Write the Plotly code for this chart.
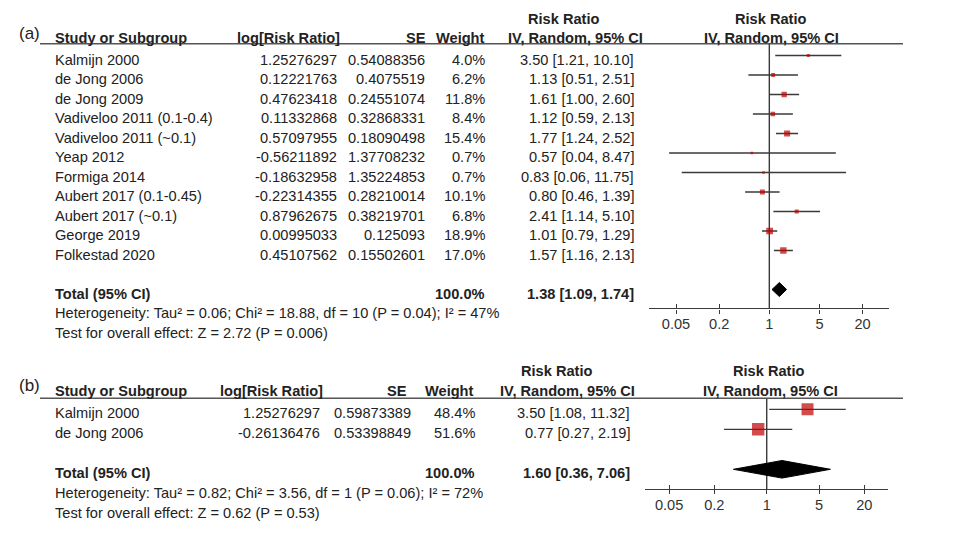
import plotly.graph_objects as go

# ---------------- data: panel (a) ----------------
studies_a = ["Kalmijn 2000", "de Jong 2006", "de Jong 2009", "Vadiveloo 2011 (0.1-0.4)",
             "Vadiveloo 2011 (~0.1)", "Yeap 2012", "Formiga 2014", "Aubert 2017 (0.1-0.45)",
             "Aubert 2017 (~0.1)", "George 2019", "Folkestad 2020"]
log_rr_a = [1.25276297, 0.12221763, 0.47623418, 0.11332868, 0.57097955, -0.56211892,
            -0.18632958, -0.22314355, 0.87962675, 0.00995033, 0.45107562]
se_a = [0.54088356, 0.4075519, 0.24551074, 0.32868331, 0.18090498, 1.37708232,
        1.35224853, 0.28210014, 0.38219701, 0.125093, 0.15502601]
weight_a = [4.0, 6.2, 11.8, 8.4, 15.4, 0.7, 0.7, 10.1, 6.8, 18.9, 17.0]
rr_a = [3.50, 1.13, 1.61, 1.12, 1.77, 0.57, 0.83, 0.80, 2.41, 1.01, 1.57]
lo_a = [1.21, 0.51, 1.00, 0.59, 1.24, 0.04, 0.06, 0.46, 1.14, 0.79, 1.16]
hi_a = [10.10, 2.51, 2.60, 2.13, 2.52, 8.47, 11.75, 1.39, 5.10, 1.29, 2.13]
total_a = (1.38, 1.09, 1.74)
het_a = "Heterogeneity: Tau² = 0.06; Chi² = 18.88, df = 10 (P = 0.04); I² = 47%"
test_a = "Test for overall effect: Z = 2.72 (P = 0.006)"

# ---------------- data: panel (b) ----------------
studies_b = ["Kalmijn 2000", "de Jong 2006"]
log_rr_b = [1.25276297, -0.26136476]
se_b = [0.59873389, 0.53398849]
weight_b = [48.4, 51.6]
rr_b = [3.50, 0.77]
lo_b = [1.08, 0.27]
hi_b = [11.32, 2.19]
total_b = (1.60, 0.36, 7.06)
het_b = "Heterogeneity: Tau² = 0.82; Chi² = 3.56, df = 1 (P = 0.06); I² = 72%"
test_b = "Test for overall effect: Z = 0.62 (P = 0.53)"

tick_vals = [0.05, 0.2, 1, 5, 20]
tick_text = ["0.05", "0.2", "1", "5", "20"]

# ---------------- styling ----------------
W, H = 960, 533
OFF = 8  # page body margin: figure is drawn 8px right/down in the window
FONT = "Liberation Sans, Arial, sans-serif"
FS = 14.6
TXT = "#222222"
LINE = "#3a3a3a"
RED = "#c00000"


def PX(x):
    return (x - OFF) / W


def PY(y):
    return 1 - (y - OFF) / H


fig = go.Figure()
ann = []
shapes = []


def txt(px, y, s, yref, anchor="left", bold=False, size=FS, yshift=-4):
    ann.append(dict(x=PX(px), y=y, xref="paper", yref=yref,
                    text=f"<b>{s}</b>" if bold else s,
                    xanchor=anchor, yanchor="middle", showarrow=False,
                    yshift=yshift,
                    font=dict(family=FONT, size=size, color=TXT)))


def panel(studies, log_rr, se, weight, rr, lo, hi, total, het, test,
          xa, ya, yref, cols, scale, diamond_h, hdr_rows, underline_row, axis_row, label):
    n = len(studies)
    xs, ys = [], []
    for i in range(n):
        xs += [lo[i], hi[i], None]
        ys += [i, i, None]
    fig.add_trace(go.Scatter(x=xs, y=ys, mode="lines", xaxis=xa, yaxis=ya,
                             line=dict(color=LINE, width=1.3), hoverinfo="skip",
                             showlegend=False))
    fig.add_trace(go.Scatter(x=[1, 1], y=[underline_row, axis_row], mode="lines",
                             xaxis=xa, yaxis=ya, line=dict(color=LINE, width=1.4),
                             hoverinfo="skip", showlegend=False))
    sizes = [max(2.6, scale * w ** 0.5) for w in weight]
    fig.add_trace(go.Scatter(x=rr, y=list(range(n)), mode="markers", xaxis=xa, yaxis=ya,
                             marker=dict(symbol="square", size=sizes, color=RED,
                                         line=dict(width=0)),
                             hoverinfo="skip", showlegend=False))
    t_rr, t_lo, t_hi = total
    tr = n + 1
    fig.add_trace(go.Scatter(x=[t_lo, t_rr, t_hi, t_rr, t_lo],
                             y=[tr, tr - diamond_h, tr, tr + diamond_h, tr],
                             mode="lines", fill="toself", fillcolor="black",
                             line=dict(color="black", width=1), xaxis=xa, yaxis=ya,
                             hoverinfo="skip", showlegend=False))
    h1, h2 = hdr_rows
    txt(cols["label_x"], cols["label_y"], label, yref, size=17)
    txt(cols["name"], h2, "Study or Subgroup", yref, bold=True)
    txt(cols["lrr_h"], h2, "log[Risk Ratio]", yref, anchor="right", bold=True)
    txt(cols["se_h"], h2, "SE", yref, anchor="right", bold=True)
    txt(cols["w_h"], h2, "Weight", yref, anchor="right", bold=True)
    txt(cols["rr1"], h1, "Risk Ratio", yref, anchor="center", bold=True)
    txt(cols["rr2"], h2, "IV, Random, 95% CI", yref, anchor="center", bold=True)
    txt(cols["f1"], h1, "Risk Ratio", yref, anchor="center", bold=True)
    txt(cols["f2"], h2, "IV, Random, 95% CI", yref, anchor="center", bold=True)
    for i in range(n):
        txt(cols["name"], i, studies[i], yref)
        txt(cols["lrr"], i, str(log_rr[i]), yref, anchor="right")
        txt(cols["se"], i, str(se[i]), yref, anchor="right")
        txt(cols["w"], i, f"{weight[i]:.1f}%", yref, anchor="right")
        txt(cols["rr"], i, f"{rr[i]:.2f} [{lo[i]:.2f}, {hi[i]:.2f}]", yref, anchor="right")
    txt(cols["name"], tr, "Total (95% CI)", yref, bold=True)
    txt(cols["w"], tr, f"{sum(weight):.1f}%", yref, anchor="right", bold=True)
    txt(cols["rr"], tr, f"{t_rr:.2f} [{t_lo:.2f}, {t_hi:.2f}]", yref, anchor="right", bold=True)
    txt(cols["name"], tr + 1, het, yref)
    txt(cols["name"], tr + 2, test, yref)
    shapes.append(dict(type="line", xref="paper", yref=yref, x0=PX(40), x1=PX(903),
                       y0=underline_row, y1=underline_row,
                       line=dict(color="#555555", width=1.6)))


cols_a = dict(label_x=17, label_y=-1.35, name=52.5, lrr_h=342, lrr=338.5, se_h=428.3, se=427,
              w_h=487, w=487, rr1=563.7, rr2=575.8, rr=636, f1=770, f2=771.7)
cols_b = dict(label_x=17, label_y=-1.4, name=53.3, lrr_h=325, lrr=321.7, se_h=409.3, se=413.3,
              w_h=476, w=477, rr1=556.3, rr2=567.5, rr=631.7, f1=768.3, f2=770)

panel(studies_a, log_rr_a, se_a, weight_a, rr_a, lo_a, hi_a, total_a, het_a, test_a,
      "x", "y", "y", cols_a, 1.55, 0.36, (-2.06, -1.087), -0.6, 12.96, "(a)")
panel(studies_b, log_rr_b, se_b, weight_b, rr_b, lo_b, hi_b, total_b, het_b, test_b,
      "x3", "y2", "y2", cols_b, 1.72, 0.44, (-2.1, -1.1), -0.55, 3.985, "(b)")

fig.add_trace(go.Scatter(x=[1], y=[0], xaxis="x2", yaxis="y", mode="markers",
                         marker=dict(opacity=0), hoverinfo="skip", showlegend=False))
fig.add_trace(go.Scatter(x=[1], y=[0], xaxis="x4", yaxis="y2", mode="markers",
                         marker=dict(opacity=0), hoverinfo="skip", showlegend=False))

tickfont = dict(family=FONT, size=FS, color="#333333")


def xaxis_main(domain, rng, pos):
    return dict(type="log", domain=domain, range=rng, anchor="free", position=pos,
                showline=True, linecolor=LINE, linewidth=1.4, showgrid=False, zeroline=False,
                ticks="outside", ticklen=4, tickwidth=1.4, tickcolor=LINE,
                tickvals=tick_vals, ticktext=tick_text, tickfont=tickfont,
                ticklabelstandoff=-2, fixedrange=True)


def xaxis_over(domain, rng, pos, over):
    return dict(type="log", domain=domain, range=rng, anchor="free", position=pos,
                overlaying=over, showline=False, showgrid=False, zeroline=False,
                ticks="inside", ticklen=4, tickwidth=1.4, tickcolor=LINE,
                tickvals=tick_vals, showticklabels=False, fixedrange=True)


# panel (a): screenshot pixels, row r at y = 55.5 + 19.5 r ; panel (b): y = 409.3 + 20 r
dom_a = [PX(649.3), PX(888.7)]
rng_a = [-1.674, 1.665]
pos_a = PY(308.3)
dom_b = [PX(645), PX(888.3)]
rng_b = [-1.623, 1.621]
pos_b = PY(489)

ya_top, ya_bot = 8, 345
yb_top, yb_bot = 350, 533

fig.update_layout(
    width=W, height=H, margin=dict(l=0, r=0, t=0, b=0),
    paper_bgcolor="white", plot_bgcolor="rgba(0,0,0,0)",
    showlegend=False,
    xaxis=xaxis_main(dom_a, rng_a, pos_a),
    xaxis2=xaxis_over(dom_a, rng_a, pos_a, "x"),
    xaxis3=xaxis_main(dom_b, rng_b, pos_b),
    xaxis4=xaxis_over(dom_b, rng_b, pos_b, "x3"),
    yaxis=dict(domain=[PY(ya_bot), PY(ya_top)],
               range=[(ya_bot - 55.5) / 19.5, (ya_top - 55.5) / 19.5],
               visible=False, anchor="x", fixedrange=True),
    yaxis2=dict(domain=[PY(yb_bot), PY(yb_top)],
                range=[(yb_bot - 409.3) / 20, (yb_top - 409.3) / 20],
                visible=False, anchor="x3", fixedrange=True),
    annotations=ann, shapes=shapes,
)

fig.write_html("out.html")
